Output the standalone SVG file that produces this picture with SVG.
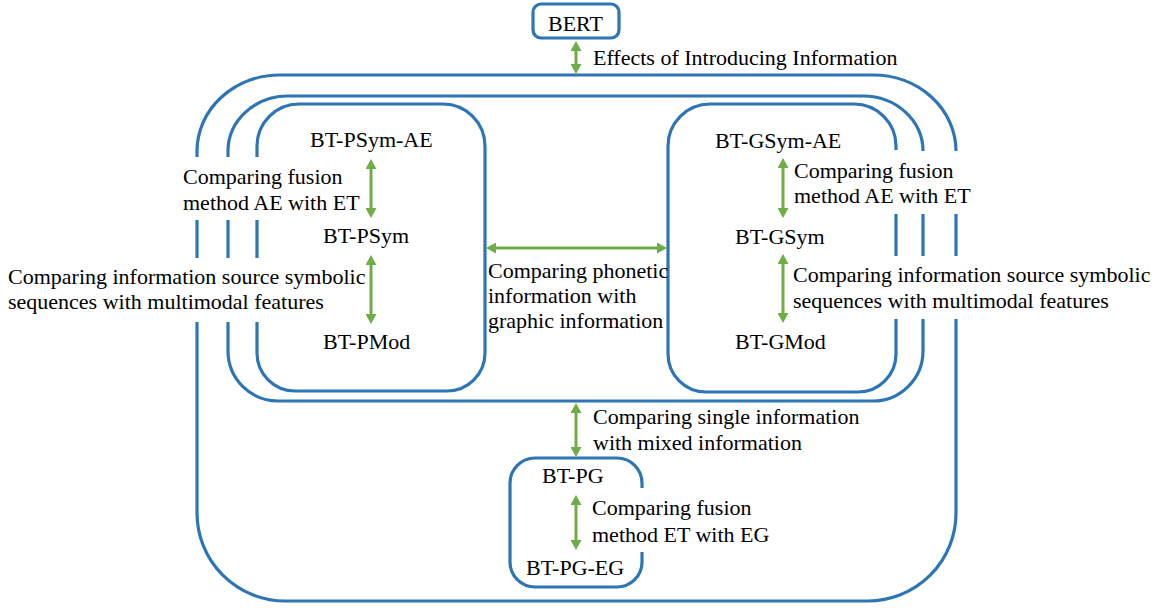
<svg xmlns="http://www.w3.org/2000/svg" width="1160" height="608" viewBox="0 0 1160 608">
<style>
.box{fill:none;stroke:#2E75B6;stroke-width:3.2;stroke-linecap:butt}
.lbl{font-family:'Liberation Serif','Times New Roman',serif;font-size:22px;fill:#000}
.arr{stroke:#70AD47;stroke-width:3;fill:none;marker-start:url(#ah);marker-end:url(#ah)}
</style>
<defs>
<marker id="ah" viewBox="0 0 10 11" refX="6" refY="5.5" markerWidth="10" markerHeight="11" markerUnits="userSpaceOnUse" orient="auto-start-reverse">
<path d="M0,0 L10,5.5 L0,11 z" fill="#70AD47"/>
</marker>
</defs>
<rect width="1160" height="608" fill="#fff"/>
<g id="outer">
<path class="box" d="M197,157 V151 A83,76 0 0 1 280,75 H873 A83,76 0 0 1 956,151 M956,214 V256 M956,319 V513 A88,88 0 0 1 868,601 H285 A88,88 0 0 1 197,513 V322 M197,258 V220"/>
</g>
<g id="middle">
<path class="box" d="M228,157 V151 A60,55 0 0 1 288,96 H863 A60,55 0 0 1 923,151 M923,214 V256 M923,319 V351 A50,50 0 0 1 873,401 H278 A50,50 0 0 1 228,351 V322 M228,258 V220"/>
</g>
<g id="phonetic">
<path class="box" d="M257,157 V146 A42,42 0 0 1 299,104 H443 A42,42 0 0 1 485,146 V353 A38,38 0 0 1 447,391 H295 A38,38 0 0 1 257,353 V322 M257,258 V220"/>
<text class="lbl" x="310" y="147">BT-PSym-AE</text>
<text class="lbl" x="323" y="243">BT-PSym</text>
<text class="lbl" x="323" y="349">BT-PMod</text>
</g>
<g id="graphic">
<path class="box" d="M896,150 V146 A42,42 0 0 0 854,104 H710 A42,42 0 0 0 668,146 V354 A38,38 0 0 0 706,392 H858 A38,38 0 0 0 896,354 V319 M896,256 V214"/>
<text class="lbl" x="715" y="148">BT-GSym-AE</text>
<text class="lbl" x="735" y="244">BT-GSym</text>
<text class="lbl" x="735" y="349">BT-GMod</text>
</g>
<g id="bert">
<rect class="box" x="533" y="4" width="86" height="34" rx="8"/>
<text class="lbl" x="548" y="31">BERT</text>
</g>
<g id="pg">
<path class="box" d="M642,488 V483 A25,25 0 0 0 617,458 H535 A25,25 0 0 0 510,483 V562 A25,25 0 0 0 535,587 H617 A25,25 0 0 0 642,562 V552"/>
<text class="lbl" x="542" y="483">BT-PG</text>
<text class="lbl" x="526" y="575">BT-PG-EG</text>
</g>
<g id="connectors">
<path class="arr" d="M576,45 V70"/>
<path class="arr" d="M371,163 V214"/>
<path class="arr" d="M371,259 V320"/>
<path class="arr" d="M783,162 V214"/>
<path class="arr" d="M783,258 V319"/>
<path class="arr" d="M490,248 H663"/>
<path class="arr" d="M576,407 V453"/>
<path class="arr" d="M576,499 V546"/>
</g>
<g id="labels">
<text class="lbl" x="593" y="65">Effects of Introducing Information</text>
<text class="lbl" x="183" y="184">Comparing fusion</text>
<text class="lbl" x="183" y="210">method AE with ET</text>
<text class="lbl" x="8" y="284">Comparing information source symbolic</text>
<text class="lbl" x="8" y="309">sequences with multimodal features</text>
<text class="lbl" x="794" y="178">Comparing fusion</text>
<text class="lbl" x="794" y="203">method AE with ET</text>
<text class="lbl" x="793" y="282">Comparing information source symbolic</text>
<text class="lbl" x="793" y="308">sequences with multimodal features</text>
<text class="lbl" x="488" y="278">Comparing phonetic</text>
<text class="lbl" x="488" y="303">information with</text>
<text class="lbl" x="488" y="328">graphic information</text>
<text class="lbl" x="593" y="424">Comparing single information</text>
<text class="lbl" x="593" y="450">with mixed information</text>
<text class="lbl" x="592" y="515">Comparing fusion</text>
<text class="lbl" x="592" y="542">method ET with EG</text>
</g>
</svg>
